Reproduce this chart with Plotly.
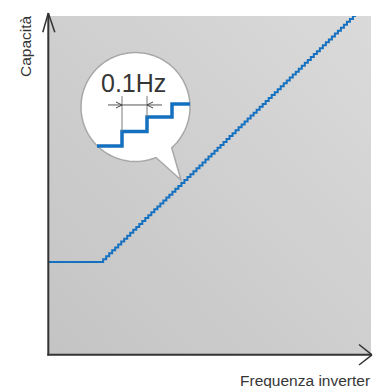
"""
Capacità vs frequenza inverter: rampa a gradini da 0.1 Hz con ingrandimento.
"""
import base64
import numpy as np
import plotly.graph_objects as go

W, H = 376, 388
FONT = 'Liberation Sans, Arial, sans-serif'
BLUE = '#1570c0'
AXIS_CLR = '#333333'
TEXT_CLR = '#363636'

# --- dati (unità arbitrarie: Hz / % capacità) ---
FLAT_FREQ = [0.0, 1.8]          # tratto costante
FLAT_CAP = 27.2
RAMP_END_FREQ = 10.2            # fine rampa
RAMP_END_CAP = 100.0
STEP_HZ = 0.1                   # risoluzione inverter

# ingrandimento nella bolla: quattro gradini
INSET_FREQ = [5.0, 5.1, 5.2, 5.3, 5.372]
INSET_CAP = [55.0, 55.9, 56.8, 57.6, 57.6]
DIM_FREQ = [5.1, 5.2]           # quota "0.1Hz"
DIM_CAP_TOP = 58.1
DIM_CAP_ARROW = 57.54
DIM_FREQ_EXT = [5.044, 5.26]

X_RANGE = [0, 10.7]
Y_RANGE = [0, 100]
X2_RANGE = [4.98, 5.396]
Y2_RANGE = [54.628, 58.467]


def P(x, y):
    """pixel -> coordinate paper"""
    return x / W, 1 - y / H


# gradini della rampa (frequenza quantizzata a STEP_HZ)
n_steps = int(round((RAMP_END_FREQ - FLAT_FREQ[1]) / STEP_HZ))
step_freq = [FLAT_FREQ[1] + k * STEP_HZ for k in range(n_steps + 1)]
step_cap = [FLAT_CAP + k * (RAMP_END_CAP - FLAT_CAP) / n_steps for k in range(1, n_steps + 1)]
line_freq = [FLAT_FREQ[0]] + step_freq
line_cap = [FLAT_CAP] + step_cap + [RAMP_END_CAP]
line_freq = line_freq[:len(line_cap)]

fig = go.Figure()
fig.add_trace(go.Scatter(
    x=line_freq, y=line_cap, mode='lines', line_shape='hv',
    line=dict(color=BLUE, width=2), hoverinfo='skip', showlegend=False,
    xaxis='x', yaxis='y',
))
fig.add_trace(go.Scatter(
    x=INSET_FREQ, y=INSET_CAP, mode='lines', line_shape='hv',
    line=dict(color=BLUE, width=3.5), hoverinfo='skip', showlegend=False,
    xaxis='x2', yaxis='y2',
))

# sfondo sfumato dell'area del grafico
svg = ('<svg xmlns="http://www.w3.org/2000/svg" width="322" height="338" '
       'viewBox="0 0 322 338" preserveAspectRatio="none"><defs>'
       '<linearGradient id="g" x1="0" y1="1" x2="1" y2="0">'
       '<stop offset="0" stop-color="#c4c4c4"/><stop offset="1" stop-color="#dadada"/>'
       '</linearGradient></defs><rect width="322" height="338" fill="url(#g)"/></svg>')
bg_src = 'data:image/svg+xml;base64,' + base64.b64encode(svg.encode()).decode()

shapes = []

# bolla con punta
cx, cy, r = 135.5, 107.0, 54.5
a0, a1 = np.radians(48.4), np.radians(67.9 - 360)
pts = [(cx + r * np.cos(a), cy + r * np.sin(a)) for a in np.linspace(a0, a1, 120)]
pts.append((181.0, 180.0))
path = 'M ' + ' L '.join('%.5f,%.5f' % P(x, y) for x, y in pts) + ' Z'
shapes.append(dict(type='path', xref='paper', yref='paper', path=path,
                   fillcolor='white', line=dict(color='#a8a8a8', width=1.5), layer='below'))

# assi con frecce aperte
def seg(x0, y0, x1, y1, color=AXIS_CLR, width=2, xref='paper', yref='paper', layer='above'):
    if xref == 'paper':
        (x0, y0), (x1, y1) = P(x0, y0), P(x1, y1)
    return dict(type='line', xref=xref, yref=yref, x0=x0, y0=y0, x1=x1, y1=y1,
                line=dict(color=color, width=width), layer=layer)

shapes += [
    seg(48.3, 355.5, 48.3, 13.5),
    seg(47.3, 354.8, 371.5, 354.8),
    seg(42.8, 32.3, 48.3, 13.0, width=1.5),
    seg(54.8, 32.3, 48.3, 13.0, width=1.5),
    seg(359.0, 344.5, 372.0, 354.8, width=1.5),
    seg(359.0, 365.0, 372.0, 354.8, width=1.5),
]

# quota 0.1 Hz nella bolla
for f, c in zip(DIM_FREQ, [INSET_CAP[1], INSET_CAP[2]]):
    shapes.append(seg(f, c, f, DIM_CAP_TOP, color='#7a7a7a', width=1, xref='x2', yref='y2'))
shapes.append(seg(DIM_FREQ_EXT[0], DIM_CAP_ARROW, DIM_FREQ_EXT[1], DIM_CAP_ARROW,
                  color='#555555', width=1, xref='x2', yref='y2'))
for f, d in zip(DIM_FREQ, [-1, 1]):
    shapes.append(dict(type='path', xref='x2', yref='y2',
                       xsizemode='pixel', ysizemode='pixel', xanchor=f, yanchor=DIM_CAP_ARROW,
                       path='M %d,3 L 0,0 L %d,-3' % (6 * d, 6 * d),
                       line=dict(color='#444444', width=1)))

annotations = [
    dict(text='0.1Hz', x=P(133, 0)[0], y=P(0, 82.5)[1], xref='paper', yref='paper',
         showarrow=False, xanchor='center', yanchor='middle',
         font=dict(size=25, color=TEXT_CLR, family=FONT)),
    dict(text='Capacità', x=P(25.5, 0)[0], y=P(0, 45.5)[1], xref='paper', yref='paper',
         showarrow=False, textangle=-90, xanchor='center', yanchor='middle',
         font=dict(size=15.5, color=TEXT_CLR, family=FONT)),
    dict(text='Frequenza inverter', x=P(372, 0)[0], y=P(0, 380.5)[1], xref='paper', yref='paper',
         showarrow=False, xanchor='right', yanchor='middle',
         font=dict(size=15.5, color=TEXT_CLR, family=FONT)),
]

fig.update_layout(
    width=W, height=H, autosize=False,
    margin=dict(l=0, r=0, t=0, b=0, pad=0),
    paper_bgcolor='white', plot_bgcolor='rgba(0,0,0,0)',
    xaxis=dict(domain=[49 / W, 371 / W], range=X_RANGE, visible=False, fixedrange=True),
    yaxis=dict(domain=[1 - 354 / H, 1 - 16 / H], range=Y_RANGE, visible=False, fixedrange=True),
    xaxis2=dict(domain=[92 / W, 196 / W], range=X2_RANGE, visible=False, anchor='y2', fixedrange=True),
    yaxis2=dict(domain=[1 - 152 / H, 1 - 90 / H], range=Y2_RANGE, visible=False, anchor='x2', fixedrange=True),
    images=[dict(source=bg_src, xref='paper', yref='paper', x=49 / W, y=1 - 16 / H,
                 sizex=322 / W, sizey=338 / H, xanchor='left', yanchor='top',
                 sizing='stretch', layer='below')],
    shapes=shapes, annotations=annotations,
    showlegend=False, dragmode=False, hovermode=False,
)

fig.write_html('out.html', config={'displayModeBar': False},
               post_script="document.body.style.margin='0';document.body.style.overflow='hidden';")
